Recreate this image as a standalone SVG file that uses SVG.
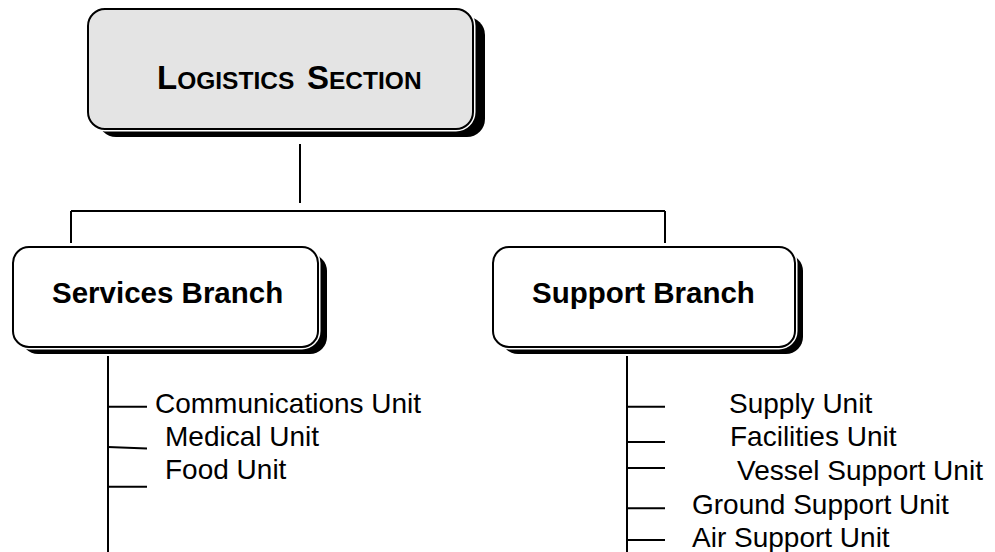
<svg xmlns="http://www.w3.org/2000/svg" width="995" height="552" viewBox="0 0 995 552">
  <style>
    .shadow { fill: #000000; }
    .box { stroke: #000000; stroke-width: 2; }
    .gap { fill: none; stroke: #ffffff; stroke-width: 5; }
    .head { fill: #e4e4e4; }
    .branch { fill: #ffffff; }
    .title { font-family: "Liberation Sans", Arial, Helvetica, sans-serif; font-weight: bold; fill: #000000; }
    .unit { font-family: "Liberation Sans", Arial, Helvetica, sans-serif; font-size: 28px; fill: #000000; }
    .link { fill: none; stroke: #000000; stroke-width: 2; }
  </style>

  <rect width="995" height="552" fill="#ffffff"/>

  <!-- Section head -->
  <g id="logistics-section">
    <rect class="shadow" x="98" y="17" width="387" height="120" rx="18"/>
    <rect class="gap" x="88" y="9" width="385" height="120" rx="17"/>
    <rect class="box head" x="88" y="9" width="385" height="120" rx="17"/>
    <text class="title" y="89"><tspan x="157" font-size="33">L</tspan><tspan font-size="24.5">OGISTICS</tspan><tspan x="307" font-size="33">S</tspan><tspan font-size="24.5">ECTION</tspan></text>
  </g>

  <!-- Branches -->
  <g id="services-branch">
    <rect class="shadow" x="21" y="254" width="306" height="100" rx="17"/>
    <rect class="gap" x="13" y="247" width="305" height="100" rx="16"/>
    <rect class="box branch" x="13" y="247" width="305" height="100" rx="16"/>
    <text class="title" x="52" y="303" font-size="29.5">Services Branch</text>
  </g>

  <g id="support-branch">
    <rect class="shadow" x="501" y="254" width="302" height="100" rx="17"/>
    <rect class="gap" x="493" y="247" width="302" height="100" rx="16"/>
    <rect class="box branch" x="493" y="247" width="302" height="100" rx="16"/>
    <text class="title" x="532" y="303" font-size="29.5">Support Branch</text>
  </g>

  <!-- Units under each branch -->
  <g id="services-units">
    <text class="unit" x="155" y="413">Communications Unit</text>
    <text class="unit" x="165" y="446">Medical Unit</text>
    <text class="unit" x="165" y="479">Food Unit</text>
  </g>

  <g id="support-units">
    <text class="unit" x="729" y="412.5">Supply Unit</text>
    <text class="unit" x="730" y="446">Facilities Unit</text>
    <text class="unit" x="737" y="480">Vessel Support Unit</text>
    <text class="unit" x="692" y="513.5">Ground Support Unit</text>
    <text class="unit" x="692" y="547">Air Support Unit</text>
  </g>

  <!-- Connectors -->
  <g id="connectors">
    <path class="link" d="M300,144 V203"/>
    <path class="link" d="M71,211 H665"/>
    <path class="link" d="M71,211 V243"/>
    <path class="link" d="M665,211 V243"/>

    <path class="link" d="M108,356 V552"/>
    <path class="link" d="M108,406.7 H147"/>
    <path class="link" d="M108,447 L147,448.5"/>
    <path class="link" d="M108,486.7 H147"/>

    <path class="link" d="M627,356 V552"/>
    <path class="link" d="M627,406.7 H665"/>
    <path class="link" d="M627,442 H665"/>
    <path class="link" d="M627,468 H665"/>
    <path class="link" d="M627,508.3 H665"/>
    <path class="link" d="M627,540 H665"/>
  </g>
</svg>
